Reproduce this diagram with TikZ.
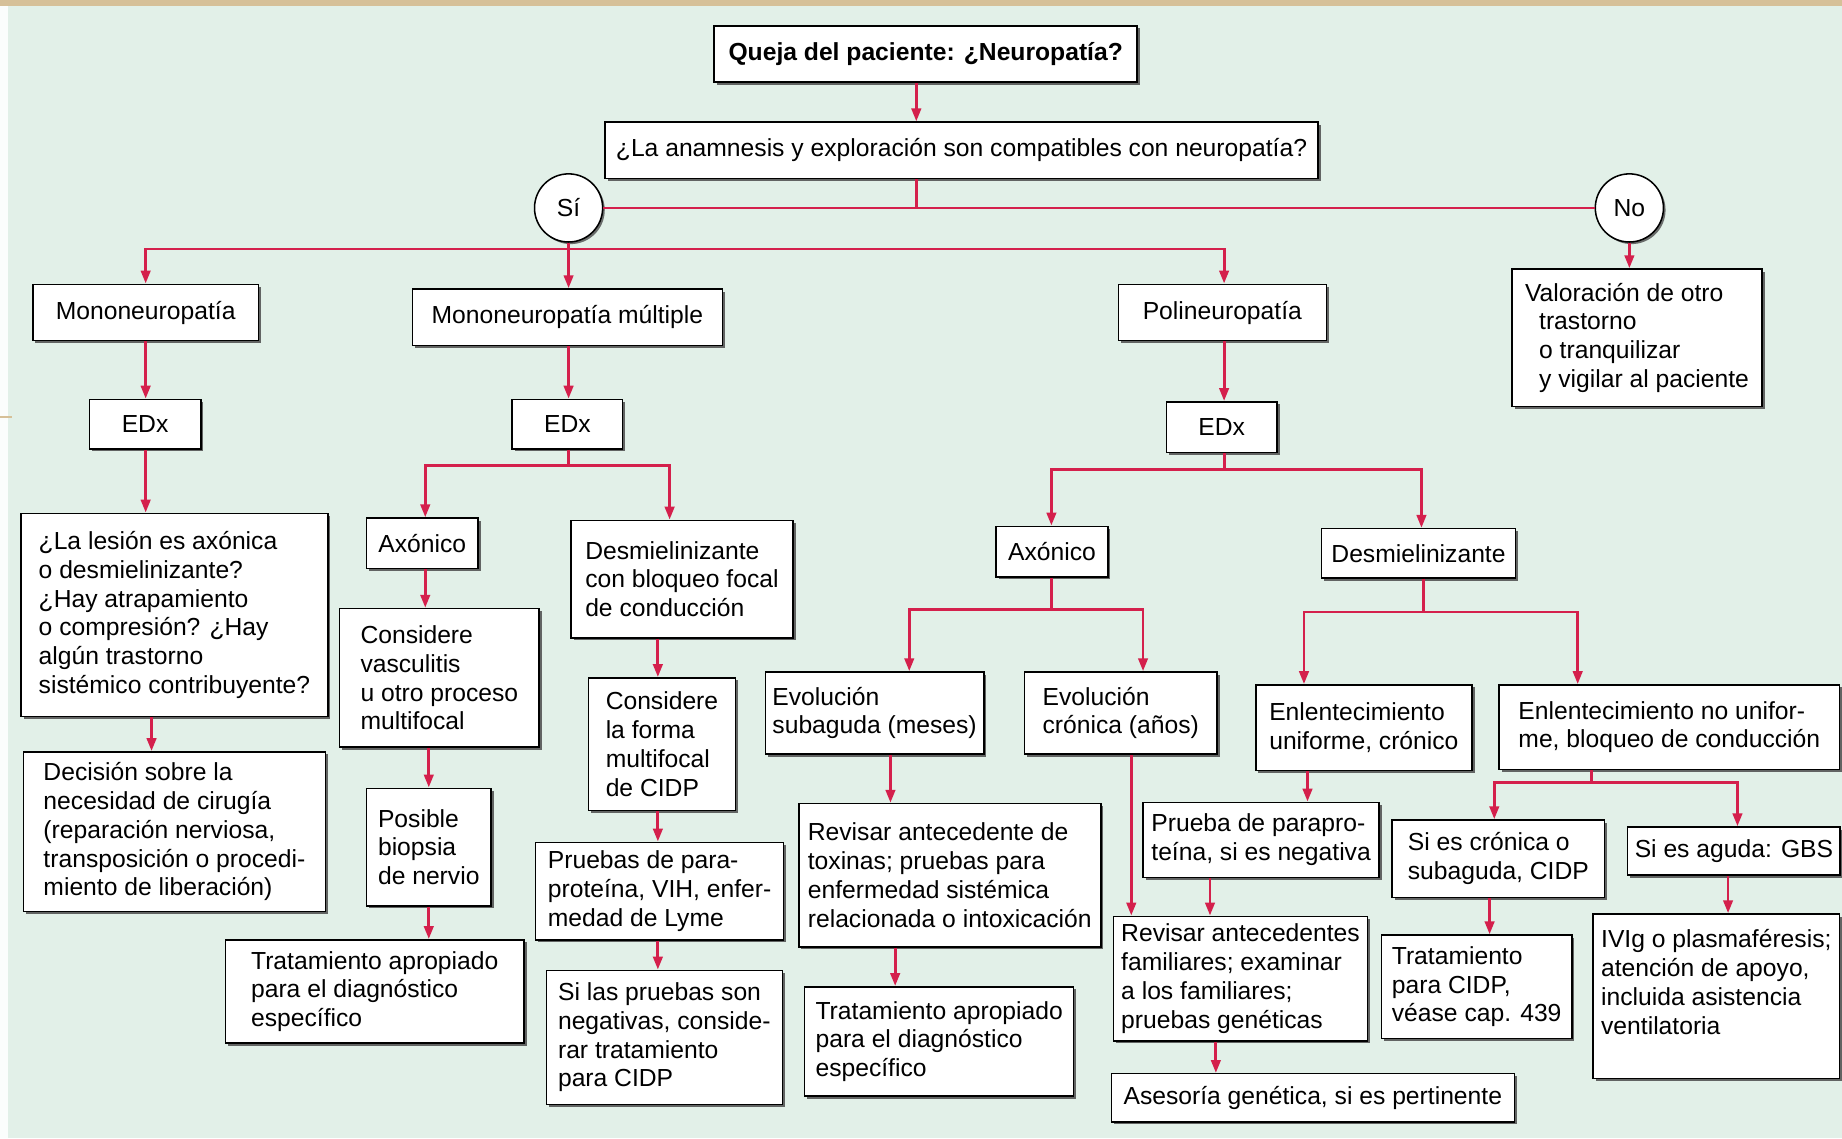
\documentclass[tikz,border=0pt]{standalone}
\usepackage{fontspec}
\setmainfont{Liberation Sans}
\usetikzlibrary{arrows.meta,shadows}
\definecolor{bgmint}{RGB}{226,240,232}
\definecolor{lnred}{RGB}{212,32,76}
\definecolor{tanedge}{RGB}{214,192,152}
\newcommand\bx[7][]{\node[box,#1,minimum width={#5-#3},minimum height={#6-#4}] (#2) at ({(#3+#5)/2},{(#4+#6)/2}) {#7};}
\begin{document}
\begin{tikzpicture}[x=1pt,y=-1pt,
  box/.style={draw=black, line width=1.3pt, fill=white, inner xsep=6pt, inner ysep=2pt,
    align=left, font=\fontsize{21}{24.5}\selectfont,
    drop shadow={shadow xshift=2.2pt, shadow yshift=-2.2pt, fill=black!70, opacity=0.85}},
  circ/.style={circle, draw=black, line width=1.3pt, fill=white, minimum size=58pt, inner sep=0pt,
    font=\fontsize{21}{24.5}\selectfont,
    drop shadow={shadow xshift=1.8pt, shadow yshift=-1.8pt, fill=black!70, opacity=0.8}},
  ln/.style={draw=lnred, line width=2.4pt},
  arr/.style={ln, -{Triangle[width=8pt,length=11pt]}}]
\useasboundingbox (0,0) rectangle (1568,969);
\fill[bgmint] (0,0) rectangle (1568,969);
\fill[tanedge] (0,0) rectangle (1568,5);
\fill[white!88!bgmint] (0,5) rectangle (7,969);
\draw[tanedge, line width=1.5pt] (0,355) -- (10,355);

% nodes
\bx{queja}{608}{22}{968}{70}{\bfseries Queja del paciente: ¿Neuropatía?}
\bx{anam}{515}{104}{1122}{152}{¿La anamnesis y exploración son compatibles con neuropatía?}
\node[circ] (si) at (484,177) {Sí};
\node[circ] (no) at (1387,177) {No};
\bx{mono}{28}{242}{220}{290}{Mononeuropatía}
\bx{mm}{351}{246}{615}{294}{Mononeuropatía múltiple}
\bx{poli}{952}{242}{1129}{290}{Polineuropatía}
\bx{val}{1287}{229}{1500}{346}{Valoración de otro\\\hspace*{12pt}trastorno\\\hspace*{12pt}o tranquilizar\\\hspace*{12pt}y vigilar al paciente}
\bx{edx1}{76}{340}{171}{382}{EDx}
\bx{edx2}{436}{340}{530}{382}{EDx}
\bx{edx3}{993}{342}{1087}{385}{EDx}
\bx{les}{18}{437}{279}{610}{¿La lesión es axónica\\o desmielinizante?\\¿Hay atrapamiento\\o compresión? ¿Hay\\algún trastorno\\sistémico contribuyente?}
\bx{dec}{20}{640}{277}{776}{Decisión sobre la\\necesidad de cirugía\\(reparación nerviosa,\\transposición o procedi-\\miento de liberación)}
\bx{ax1}{312}{441}{407}{484}{Axónico}
\bx{vas}{289}{518}{459}{636}{Considere\\vasculitis\\u otro proceso\\multifocal}
\bx{pos}{312}{671}{418}{771}{Posible\\biopsia\\de nervio}
\bx{tr1}{192}{800}{446}{888}{Tratamiento apropiado\\para el diagnóstico\\específico}
\bx{dm1}{486}{443}{675}{543}{Desmielinizante\\con bloqueo focal\\de conducción}
\bx{cf}{501}{577}{626}{690}{Considere\\la forma\\multifocal\\de CIDP}
\bx{pb}{456}{717}{667}{800}{Pruebas de para-\\proteína, VIH, enfer-\\medad de Lyme}
\bx{sl}{465}{826}{666}{940}{Si las pruebas son\\negativas, conside-\\rar tratamiento\\para CIDP}
\bx{ax2}{848}{448}{943}{491}{Axónico}
\bx{dm2}{1125}{450}{1290}{492}{Desmielinizante}
\bx{es}{654}{572}{835}{642}{Evolución\\subaguda (meses)}
\bx{ec}{872}{572}{1036}{642}{Evolución\\crónica (años)}
\bx{rt}{680}{684}{937}{806}{Revisar antecedente de\\toxinas; pruebas para\\enfermedad sistémica\\relacionada o intoxicación}
\bx{tr2}{685}{840}{914}{933}{Tratamiento apropiado\\para el diagnóstico\\específico}
\bx{eu}{1069}{583}{1253}{656}{Enlentecimiento\\uniforme, crónico}
\bx{en}{1276}{583}{1566}{655}{Enlentecimiento no unifor-\\me, bloqueo de conducción}
\bx{pp}{973}{683}{1174}{747}{Prueba de parapro-\\teína, si es negativa}
\bx{rf}{948}{780}{1164}{886}{Revisar antecedentes\\familiares; examinar\\a los familiares;\\pruebas genéticas}
\bx{ag}{946}{914}{1289}{955}{Asesoría genética, si es pertinente}
\bx{sc}{1185}{698}{1366}{764}{Si es crónica o\\subaguda, CIDP}
\bx{sa}{1386}{704}{1566}{745}{Si es aguda: GBS}
\bx{tc}{1176}{796}{1338}{884}{Tratamiento\\para CIDP,\\véase cap. 439}
\bx{iv}{1356}{778}{1566}{918}{IVIg o plasmaféresis;\\atención de apoyo,\\incluida asistencia\\ventilatoria\\\mbox{}}

% connectors
\draw[arr] (780,0 |- queja.south) -- (780,0 |- anam.north);
\draw[ln] (780,0 |- anam.south) -- (780,177);
\draw[ln] (si.east) -- (no.west);
\draw[ln] (si.south) -- (484,212);
\draw[arr] (484,212) -- (124,212) -- (124,0 |- mono.north);
\draw[arr] (484,212) -- (1042,212) -- (1042,0 |- poli.north);
\draw[arr] (484,212) -- (484,0 |- mm.north);
\draw[arr] (no.south) -- (no.south |- val.north);

\draw[arr] (mono.south) -- (mono.south |- edx1.north);
\draw[arr] (484,0 |- mm.south) -- (484,0 |- edx2.north);
\draw[arr] (1042,0 |- poli.south) -- (1042,0 |- edx3.north);

\draw[arr] (124,0 |- edx1.south) -- (124,0 |- les.north);
\draw[arr] (129,0 |- les.south) -- (129,0 |- dec.north);

\draw[arr] (484,0 |- edx2.south) -- (484,396) -- (362,396) -- (362,0 |- ax1.north);
\draw[arr] (484,396) -- (570,396) -- (570,0 |- dm1.north);
\draw[arr] (362,0 |- ax1.south) -- (362,0 |- vas.north);
\draw[arr] (365,0 |- vas.south) -- (365,0 |- pos.north);
\draw[arr] (365,0 |- pos.south) -- (365,0 |- tr1.north);
\draw[arr] (560,0 |- dm1.south) -- (560,0 |- cf.north);
\draw[arr] (560,0 |- cf.south) -- (560,0 |- pb.north);
\draw[arr] (560,0 |- pb.south) -- (560,0 |- sl.north);

\draw[arr] (1042,0 |- edx3.south) -- (1042,400) -- (895,400) -- (895,0 |- ax2.north);
\draw[arr] (1042,400) -- (1210,400) -- (1210,0 |- dm2.north);
\draw[arr] (895,0 |- ax2.south) -- (895,519) -- (774,519) -- (774,0 |- es.north);
\draw[arr] (895,519) -- (973,519) -- (973,0 |- ec.north);
\draw[arr] (758,0 |- es.south) -- (758,0 |- rt.north);
\draw[arr] (762,0 |- rt.south) -- (762,0 |- tr2.north);
\draw[arr] (963,0 |- ec.south) -- (963,0 |- rf.north);

\draw[arr] (1212,0 |- dm2.south) -- (1212,521) -- (1110,521) -- (1110,0 |- eu.north);
\draw[arr] (1212,521) -- (1343,521) -- (1343,0 |- en.north);
\draw[arr] (1113,0 |- eu.south) -- (1113,0 |- pp.north);
\draw[arr] (1030,0 |- pp.south) -- (1030,0 |- rf.north);
\draw[arr] (1035,0 |- rf.south) -- (1035,0 |- ag.north);
\draw[arr] (1355,0 |- en.south) -- (1355,666) -- (1272,666) -- (1272,0 |- sc.north);
\draw[arr] (1355,666) -- (1479,666) -- (1479,0 |- sa.north);
\draw[arr] (1268,0 |- sc.south) -- (1268,0 |- tc.north);
\draw[arr] (1471,0 |- sa.south) -- (1471,0 |- iv.north);
\end{tikzpicture}
\end{document}
